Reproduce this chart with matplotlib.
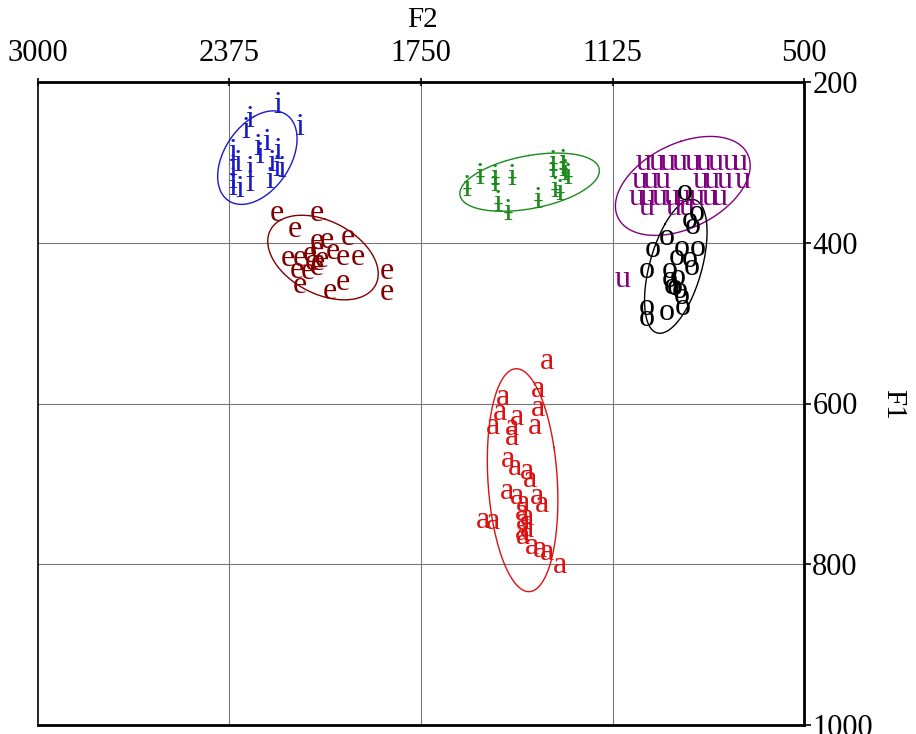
import numpy as np
import matplotlib
matplotlib.use("Agg")
import matplotlib.pyplot as plt

# ---- data (F2, F1 in Hz) ----
i_f2 = [2217, 2145, 2308, 2321, 2253, 2282, 2275, 2217, 2364, 2364, 2364, 2364, 2347, 2308, 2308, 2243, 2220, 2204, 2341, 2236]
i_f1 = [229, 256, 247, 260, 275, 281, 291, 287, 288, 306, 322, 331, 301, 309, 326, 322, 307, 309, 334, 301]

e_f2 = [2220, 2089, 2161, 2089, 2057, 1988, 2184, 2145, 2112, 2089, 2073, 2037, 2004, 1956, 2155, 2119, 2089, 2145, 2047, 2004, 1861, 1861, 2106, 2086]
e_f1 = [363, 363, 384, 399, 397, 394, 419, 419, 415, 409, 421, 411, 418, 418, 434, 436, 431, 453, 461, 450, 436, 462, 424, 425]

ib_f2 = [1600, 1557, 1508, 1508, 1453, 1499, 1466, 1368, 1319, 1313, 1286, 1280, 1270, 1296, 1319, 1286]
ib_f1 = [332, 318, 319, 326, 319, 351, 362, 347, 309, 334, 300, 313, 318, 338, 301, 307]

u_f2 = [1025, 980, 944, 905, 865, 829, 790, 741, 709, 1035, 1002, 963, 839, 800, 758, 699,
        1045, 1009, 970, 931, 895, 849, 807, 774, 1012, 927, 882, 1091]
u_f1 = [300, 300, 300, 300, 300, 300, 300, 300, 300, 322, 322, 322, 322, 322, 322, 322,
        344, 344, 344, 344, 344, 344, 344, 344, 356, 356, 356, 446]

o_f2 = [888, 849, 862, 947, 993, 898, 846, 914, 872, 1012, 937, 865, 937, 911, 931, 905, 898, 1012, 1012, 947, 895, 921, 872]
o_f1 = [338, 363, 380, 393, 409, 407, 407, 418, 421, 434, 434, 431, 446, 443, 455, 459, 467, 480, 494, 487, 480, 456, 372]

a_f2 = [1339, 1368, 1482, 1368, 1492, 1437, 1515, 1453, 1378, 1453, 1466, 1443, 1404, 1394, 1469, 1437, 1371, 1355, 1417, 1548, 1515, 1420, 1417, 1404, 1420, 1404, 1388, 1361, 1339, 1296, 1417]
a_f1 = [548, 583, 593, 606, 611, 617, 629, 630, 629, 642, 670, 680, 685, 695, 710, 716, 716, 726, 724, 745, 747, 736, 747, 742, 761, 757, 778, 782, 786, 801, 766]

vowels = [
    ("i", i_f2, i_f1, "#1a1acc"),
    ("e", e_f2, e_f1, "#800000"),
    ("\u0268", ib_f2, ib_f1, "#1a8a1a"),
    ("u", u_f2, u_f1, "#800080"),
    ("o", o_f2, o_f1, "#000000"),
    ("a", a_f2, a_f1, "#dd1111"),
]

x_ticks = [3000, 2375, 1750, 1125, 500]
y_ticks = [200, 400, 600, 800, 1000]
n_sigma = 2.0

plt.rcParams['font.family'] = ['Liberation Serif', 'DejaVu Serif']

fig = plt.figure(figsize=(9.16, 7.34), dpi=100)
ax = fig.add_axes([38/916, 1-725/734, (804-38)/916, (725-82)/734])
ax.set_xlim(3000, 500)
ax.set_ylim(1000, 200)

for v in [2375, 1750, 1125]:
    ax.axvline(v, color='#777777', lw=0.8, zorder=0)
for v in [400, 600, 800]:
    ax.axhline(v, color='#777777', lw=0.8, zorder=0)

t = np.linspace(0, 2*np.pi, 300)
for lab, f2, f1, col in vowels:
    f2 = np.asarray(f2, float); f1 = np.asarray(f1, float)
    for x, y in zip(f2, f1):
        ax.text(x, y, lab, color=col, fontsize=23, ha='center', va='center', zorder=3)
    m = np.array([f2.mean(), f1.mean()])
    cov = np.cov(np.vstack([f2, f1]))
    w, V = np.linalg.eigh(cov)
    pts = m[:, None] + n_sigma * (V @ (np.sqrt(w)[:, None] * np.vstack([np.cos(t), np.sin(t)])))
    ax.plot(pts[0], pts[1], color=col, lw=1.0, zorder=2)

ax.xaxis.tick_top()
ax.yaxis.tick_right()
ax.set_xticks(x_ticks)
ax.set_yticks(y_ticks)
ax.set_xticklabels([str(v) for v in x_ticks])
ax.set_yticklabels([str(v) for v in y_ticks])
ax.tick_params(axis='x', direction='inout', length=6, width=1.2, pad=7, labelsize=22)
ax.tick_params(axis='y', direction='out', length=5, width=1.2, pad=1, labelsize=22)
for s in ['top', 'right', 'bottom']:
    ax.spines[s].set_linewidth(2.0)
ax.spines['left'].set_linewidth(1.2)

fig.text(422/916, 1-20/734, "F2", ha='center', va='center', fontsize=21)
fig.text(893/916, 1-404/734, "F1", ha='center', va='center', fontsize=21, rotation=-90)

fig.savefig("out.png", dpi=100)
